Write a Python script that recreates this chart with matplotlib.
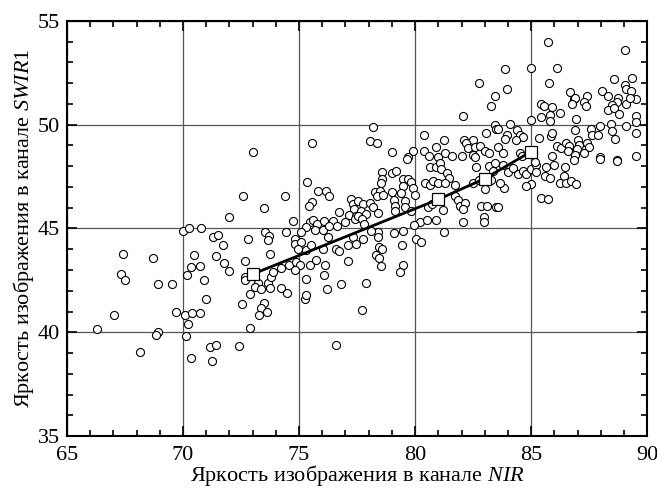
import matplotlib
matplotlib.use("Agg")
import matplotlib.pyplot as plt
from matplotlib.ticker import MultipleLocator
import numpy as np

plt.rcParams['font.family'] = ['Liberation Serif', 'DejaVu Serif']
plt.rcParams['mathtext.fontset'] = 'custom'
plt.rcParams['mathtext.rm'] = 'Liberation Serif'
plt.rcParams['mathtext.it'] = 'Liberation Serif:italic'

# scatter points (NIR, SWIR1)
nir = [73.0, 75.56, 82.76, 83.46, 83.25, 82.07, 78.19, 83.45, 83.5, 83.04, 80.39, 78.04, 78.36,
       81.24, 82.1, 82.5, 82.2, 82.3, 82.6, 82.8, 83.0, 83.2, 80.9, 80.4, 79.9, 79.0, 79.7, 80.6,
       81.0, 81.3, 81.6, 82.0, 82.5, 82.6,
       85.73, 89.04, 83.87, 85.0, 86.13, 85.78, 83.97, 88.58, 89.35, 89.04, 89.07, 89.3, 89.5,
       89.08, 89.25, 86.67, 86.85, 86.9, 86.77, 87.4, 87.3, 87.35, 88.06, 88.3, 88.75, 88.68,
       88.5, 88.3, 88.58, 88.8, 89.5, 89.5, 88.46, 89.1, 88.5, 88.6, 89.5, 85.44, 85.56, 85.9,
       86.26, 85.83, 85.44, 85.83, 86.95, 85.0, 84.08, 83.58, 84.4, 83.98, 84.5, 84.66, 83.87,
       84.37, 85.34, 85.85, 85.9, 86.88, 87.6, 87.96, 87.64, 87.9, 83.58, 83.8, 84.5, 84.6,
       85.9, 86.13, 86.28, 86.5, 86.64, 86.57, 87.0, 87.07, 86.99, 87.4, 87.48, 87.3, 86.88,
       87.96, 88.7, 89.5,
       70.0, 70.26, 70.76, 71.3, 71.5, 67.41, 68.7, 70.47, 71.44, 70.33, 70.72, 70.19, 67.34,
       67.49, 68.9, 69.53, 70.9, 71.0,
       67.03, 69.68, 70.1, 70.39, 70.72, 70.2, 66.28, 68.92, 68.82, 70.12, 71.15, 71.43, 68.13,
       70.36, 71.26,
       72.54, 73.49, 73.38, 73.62, 73.26, 72.87, 72.4, 76.6, 75.26, 77.7,
       75.36, 72.59, 74.38, 75.82, 76.18, 76.29, 73.48, 72.0, 75.56, 75.42, 77.23, 77.33, 77.37,
       76.71, 77.16, 77.47, 74.74, 75.46, 75.6, 75.79, 76.08, 76.47, 76.97, 77.4, 75.31, 75.67,
       76.03, 76.29, 76.65, 71.72, 72.8, 73.52, 73.71, 73.66, 74.45, 75.07, 74.84, 74.84, 75.1,
       74.96, 75.29, 75.53, 76.25, 76.03, 76.6, 76.71, 77.11, 77.33, 77.47, 71.77, 72.0, 72.66,
       73.76, 74.24, 74.57, 74.88, 75.03, 74.84, 75.46, 75.75, 76.13, 76.08, 77.11, 72.66, 72.69,
       73.23, 73.66, 73.78, 73.88, 73.09, 73.35, 73.74, 74.24, 74.5, 72.87, 75.28, 75.32, 76.22,
       76.8,
       79.67, 80.66, 80.88, 81.06, 81.13, 81.39, 81.45, 82.64, 83.17, 83.43, 83.36, 78.58, 79.02,
       79.19, 78.58, 78.55, 79.48, 79.7, 79.84, 79.48, 79.91, 80.41, 80.63, 80.77, 80.99, 81.28,
       81.71, 82.5, 82.74, 83.0, 83.29, 78.29, 78.48, 78.36, 78.62, 79.02, 79.38, 79.98, 79.09,
       79.55, 79.12, 79.55, 79.81, 79.12, 77.54, 77.76, 78.04, 78.19, 77.69, 77.54, 77.9, 78.38,
       77.72, 77.8, 81.74, 81.85, 81.92, 82.14, 82.07, 80.56, 80.73, 81.2, 82.85, 83.11, 83.5,
       80.22, 80.51, 80.88, 79.96, 82.07, 82.97, 82.97, 81.25, 78.38, 78.09, 79.09, 79.48, 78.38,
       77.76, 80.06, 80.27, 79.45, 78.43, 78.58, 78.33, 78.43, 78.55, 79.48, 79.34, 77.9,
       83.79, 84.0, 84.22, 84.44, 84.66, 84.8, 85.01, 85.19, 85.23, 85.16, 85.66, 85.98, 86.48,
       86.85, 87.96, 88.68, 85.59, 85.81, 86.42, 86.24, 86.52, 86.7, 86.95, 84.99, 84.76, 83.84,
       83.65, 85.42, 85.73, 83.58]
swir1 = [48.7, 49.1, 52.0, 51.4, 50.9, 50.4, 49.9, 50.0, 49.8, 49.6, 49.5, 49.2, 49.1,
         49.25, 49.25, 49.25, 49.1, 48.85, 48.9, 48.95, 48.75, 48.65, 48.9, 48.75, 48.75, 48.7,
         48.45, 48.5, 48.45, 48.65, 48.5, 48.5, 48.55, 48.45,
         53.96, 53.6, 52.7, 52.74, 52.74, 52.0, 51.7, 52.2, 52.25, 51.9, 51.7, 51.6, 51.25,
         51.0, 51.3, 51.55, 51.25, 51.3, 51.0, 51.4, 51.07, 50.9, 51.6, 51.4, 51.3, 51.1,
         50.95, 50.7, 50.8, 50.5, 50.4, 50.15, 50.03, 49.95, 49.7, 49.3, 49.6, 51.0, 50.9, 50.85,
         50.56, 50.48, 50.37, 50.16, 50.27, 50.2, 50.03, 49.8, 49.76, 49.52, 49.52, 49.4, 49.3,
         49.28, 49.36, 49.47, 49.6, 49.76, 49.8, 49.92, 49.52, 49.52, 48.9, 48.65, 48.65, 48.5,
         48.5, 48.96, 48.85, 49.1, 48.96, 48.75, 49.25, 49.04, 48.84, 49.1, 48.9, 48.65, 48.56,
         48.45, 48.3, 48.5,
         44.9, 45.0, 45.0, 44.58, 44.7, 43.75, 43.57, 43.73, 43.65, 43.14, 43.2, 42.77, 42.82,
         42.5, 42.34, 42.34, 42.5, 41.6,
         40.83, 40.96, 40.83, 40.91, 40.91, 40.38, 40.16, 40.0, 39.87, 39.82, 39.31, 39.39, 39.04,
         38.76, 38.6,
         41.35, 41.39, 41.15, 40.99, 40.83, 40.22, 39.36, 39.39, 41.6, 41.07,
         47.24, 46.57, 46.54, 46.78, 46.78, 46.54, 45.98, 45.56, 46.25, 46.1, 46.41, 46.17, 45.93,
         45.77, 45.65, 45.58, 45.37, 45.3, 45.42, 45.22, 45.37, 45.37, 45.3, 45.45, 45.06, 44.94,
         44.94, 45.13, 45.13, 44.2, 44.5, 44.82, 44.66, 44.45, 44.82, 44.82, 44.5, 44.26, 44.37,
         44.02, 43.94, 44.21, 44.58, 44.02, 43.99, 43.89, 44.21, 44.58, 44.26, 43.35, 42.93, 43.41,
         43.75, 43.1, 43.25, 43.38, 43.25, 43.01, 43.22, 43.5, 43.22, 42.78, 43.43, 42.68, 42.5,
         42.39, 42.39, 42.66, 42.9, 42.19, 42.1, 42.14, 42.14, 41.91, 41.82, 42.55, 41.79, 42.1,
         42.31,
         48.33, 47.98, 47.98, 48.13, 47.85, 47.69, 47.45, 47.98, 48.0, 48.13, 47.77, 47.72, 47.66,
         47.77, 47.4, 47.18, 47.4, 47.4, 47.24, 47.05, 46.97, 47.18, 47.08, 47.29, 47.18, 47.21,
         47.08, 47.21, 47.33, 46.92, 47.33, 46.76, 46.81, 46.54, 46.6, 46.76, 46.73, 46.6, 46.38,
         46.33, 46.09, 46.01, 45.85, 45.85, 46.33, 46.17, 46.22, 46.01, 45.85, 45.61, 45.69, 45.74,
         45.45, 45.22, 46.57, 46.38, 46.09, 46.22, 45.93, 46.01, 46.2, 45.9, 46.09, 46.09, 46.01,
         45.33, 45.41, 45.41, 45.18, 45.33, 45.54, 45.3, 44.85, 44.85, 44.9, 44.78, 44.9, 44.58,
         44.5, 44.5, 44.37, 44.21, 44.1, 44.02, 43.73, 43.59, 43.19, 43.22, 42.9, 42.39,
         48.04, 47.72, 47.93, 47.61, 47.77, 47.61, 47.85, 48.04, 47.72, 48.2, 47.98, 48.04, 47.98,
         48.28, 48.33, 48.25, 47.53, 47.42, 47.53, 47.21, 47.21, 47.29, 47.13, 47.13, 47.02, 46.97,
         47.21, 46.46, 46.41, 46.01]

# mean line with square markers
line_nir = [73.0, 81.0, 83.0, 85.0]
line_swir1 = [42.8, 46.4, 47.4, 48.7]

fig = plt.figure(figsize=(6.57, 4.95), dpi=100)
ax = fig.add_axes([0.102, 0.119, 0.883, 0.839])

ax.grid(True, color='#555555', linewidth=0.9, zorder=0)
ax.plot(nir, swir1, 'o', ms=5.8, mfc='white', mec='black', mew=0.8, zorder=2)
ax.plot(line_nir, line_swir1, '-', color='black', lw=2, zorder=3)
ax.plot(line_nir, line_swir1, 's', ms=8, mfc='white', mec='black', mew=0.9, zorder=4)

ax.set_xlim(65, 90)
ax.set_ylim(35, 55)
ax.xaxis.set_major_locator(MultipleLocator(5))
ax.xaxis.set_minor_locator(MultipleLocator(1))
ax.yaxis.set_major_locator(MultipleLocator(5))
ax.yaxis.set_minor_locator(MultipleLocator(1))
ax.tick_params(which='both', direction='in', top=True, right=True, labelsize=16, width=1.2)
ax.tick_params(which='major', length=7)
ax.tick_params(which='minor', length=4)
ax.tick_params(axis='x', pad=7)
ax.tick_params(axis='y', pad=5)
for s in ax.spines.values():
    s.set_linewidth(1.5)

ax.set_xlabel(r"Яркость изображения в канале $\mathit{NIR}$", fontsize=16, labelpad=-1)
ax.set_ylabel(r"Яркость изображения в канале $\mathit{SWIR1}$", fontsize=16, labelpad=1)

fig.savefig("out.png", dpi=100)
